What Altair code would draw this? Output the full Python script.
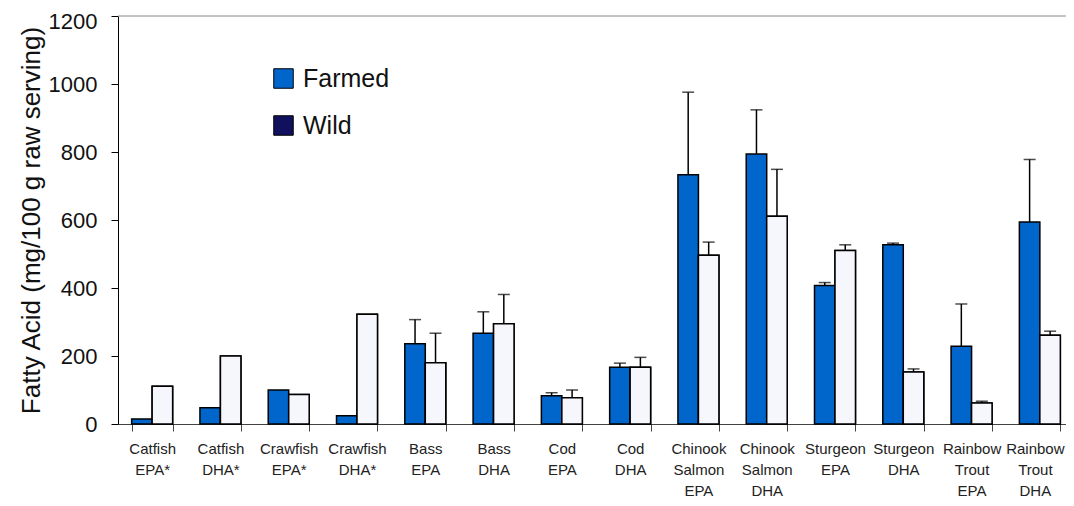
import altair as alt
import pandas as pd

categories = ["Catfish EPA*", "Catfish DHA*", "Crawfish EPA*", "Crawfish DHA*",
              "Bass EPA", "Bass DHA", "Cod EPA", "Cod DHA",
              "Chinook Salmon EPA", "Chinook Salmon DHA", "Sturgeon EPA", "Sturgeon DHA",
              "Rainbow Trout EPA", "Rainbow Trout DHA"]
farmed = [15, 48, 100, 24, 236, 267, 83, 167, 733, 794, 407, 527, 229, 594]
farmed_hi = [None, None, None, None, 307, 330, 92, 179, 976, 924, 416, 532, 353, 778]
wild = [111, 200, 87, 323, 180, 295, 77, 167, 496, 611, 510, 153, 62, 261]
wild_hi = [None, None, None, None, 267, 381, 100, 196, 535, 749, 527, 162, 67, 273]
types = ["Farmed", "Wild"]

rows = []
for i, c in enumerate(categories):
    rows.append(dict(cat=c, type="Farmed", value=farmed[i], hi=farmed_hi[i]))
    rows.append(dict(cat=c, type="Wild", value=wild[i], hi=wild_hi[i]))
df = pd.DataFrame(rows)

FONT = "Liberation Sans"
PLOT_W = 956

base = alt.Chart(df).encode(
    x=alt.X("cat:N", sort=categories,
            scale=alt.Scale(domain=categories, paddingInner=0.4, paddingOuter=0.2, range=[0, PLOT_W]),
            axis=alt.Axis(title=None, labelAngle=0, tickBand="extent", tickSize=7,
                          labelExpr="split(datum.label, ' ')", labelFontSize=15,
                          labelLineHeight=21, labelPadding=10, domainColor="#444",
                          tickColor="#444", labelColor="#222", labelFont=FONT,
                          labelOffset={"condition": {"test": "datum.value == 'Rainbow Trout DHA'", "value": -5},
                                       "value": 0})),
    xOffset=alt.XOffset("type:N", scale=alt.Scale(domain=types)),
)

yscale = alt.Scale(domain=[0, 1200], nice=False)

bars = base.mark_bar(stroke="black", strokeWidth=1.5).encode(
    y=alt.Y("value:Q", scale=yscale,
            axis=alt.Axis(title="Fatty Acid (mg/100 g raw serving)", values=[0, 200, 400, 600, 800, 1000, 1200],
                          format="d", tickSize=7, labelFontSize=22, labelPadding=14, labelFont=FONT,
                          labelOffset={"condition": {"test": "datum.value == 1200", "value": 5}, "value": 0},
                          titleFont=FONT, titleFontSize=26, titleFontWeight="normal",
                          titlePadding=4, domainColor="black", tickColor="black",
                          labelColor="#111", titleColor="#111", grid=False)),
    fill=alt.Fill("type:N", scale=alt.Scale(domain=types, range=["#0066cc", "#10105e"]),
                  legend=alt.Legend(title=None, orient="none", legendX=153, legendY=50,
                                    symbolType="square", symbolSize=380, symbolStrokeColor="black",
                                    symbolStrokeWidth=1, labelFontSize=25, labelFont=FONT,
                                    labelColor="#111", rowPadding=21, labelOffset=7, padding=0)),
)

wild_over = base.transform_filter("datum.type == 'Wild'").mark_bar(
    fill="#f6f6fd", stroke="black", strokeWidth=1.5).encode(y=alt.Y("value:Q", scale=yscale))

err = base.transform_filter("isValid(datum.hi) && isFinite(datum.hi)").mark_rule(
    color="black", strokeWidth=1.5).encode(y=alt.Y("value:Q", scale=yscale), y2="hi:Q")
caps = base.transform_filter("isValid(datum.hi) && isFinite(datum.hi)").mark_tick(
    color="black", thickness=1.5, size=12).encode(y=alt.Y("hi:Q", scale=yscale))

top = alt.Chart(pd.DataFrame({"y": [1200]})).mark_rule(color="#888", strokeWidth=1).encode(
    y=alt.Y("y:Q", scale=yscale), x=alt.value(0), x2=alt.value(PLOT_W))

chart = alt.layer(top, bars, wild_over, err, caps).properties(
    width=948, height=408,
    autosize=alt.AutoSizeParams(type="none"),
    padding={"left": 110, "top": 8, "right": 0, "bottom": 74},
).configure_view(stroke=None)

chart.save("out.html", embed_options={"renderer": "svg", "actions": False})
